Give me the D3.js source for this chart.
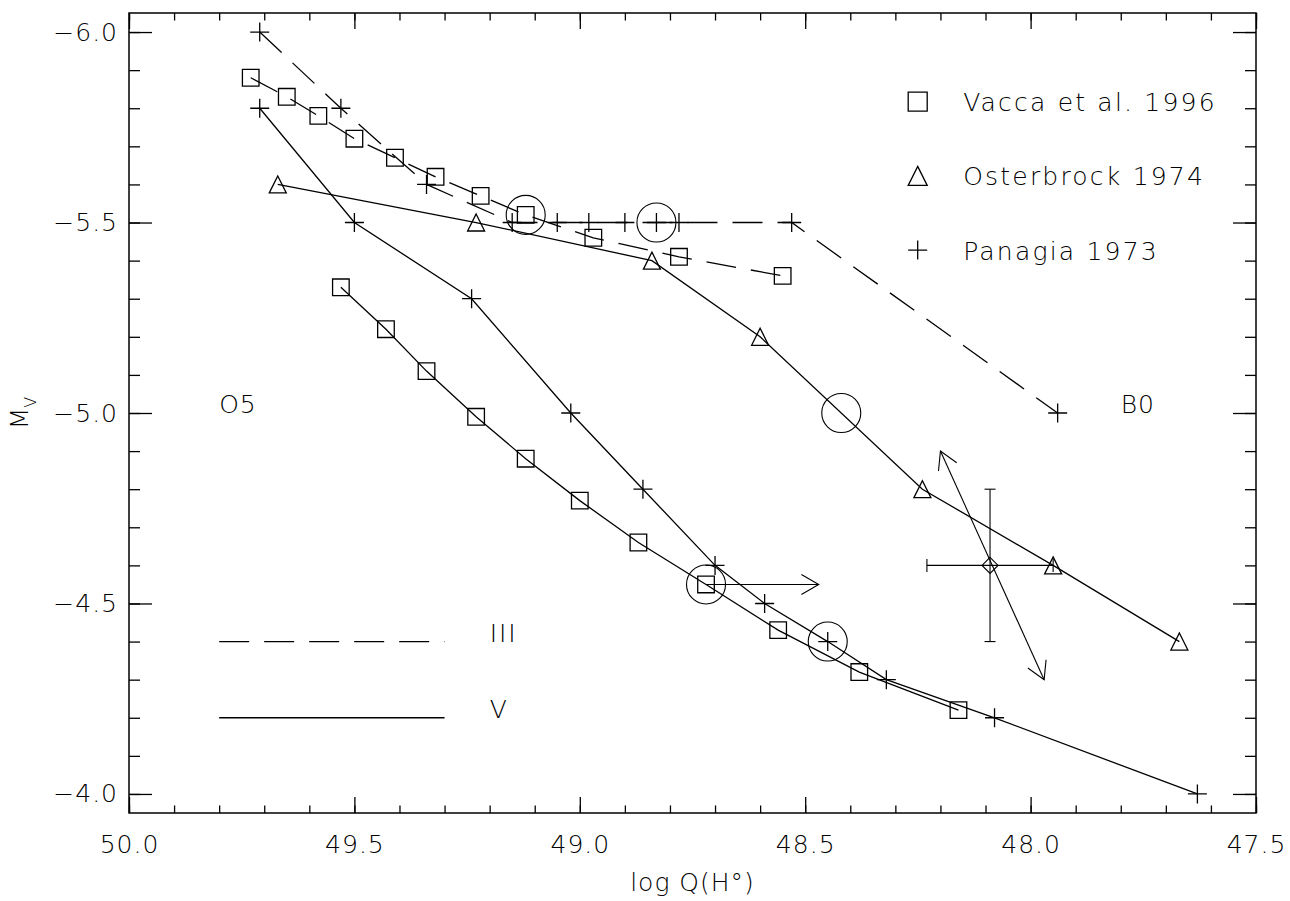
<!DOCTYPE html>
<meta charset="utf-8">
<script src="https://d3js.org/d3.v7.min.js"></script>
<style>
  body { margin: 0; background: #fff; }
  text { font-family: "DejaVu Sans", sans-serif; font-weight: 200; fill: #000; }
</style>
<div id="chart"></div>
<script>
// Values (log Q(H0) vs M_V)
const vaccaIIIQ  = [49.73, 49.65, 49.58, 49.50, 49.41, 49.32, 49.22, 49.12, 48.97, 48.78, 48.55];
const vaccaIIIMv = [-5.88, -5.83, -5.78, -5.72, -5.67, -5.62, -5.57, -5.52, -5.46, -5.41, -5.36];

const vaccaVQ  = [49.53, 49.43, 49.34, 49.23, 49.12, 49.00, 48.87, 48.72, 48.56, 48.38, 48.16];
const vaccaVMv = [-5.33, -5.22, -5.11, -4.99, -4.88, -4.77, -4.66, -4.55, -4.43, -4.32, -4.22];

const osterQ  = [49.67, 49.23, 48.84, 48.60, 48.24, 47.95, 47.67];
const osterMv = [-5.6, -5.5, -5.4, -5.2, -4.8, -4.6, -4.4];

const panagiaIIIQ  = [49.71, 49.53, 49.34, 49.15, 49.05, 48.98, 48.90, 48.83, 48.78, 48.53, 47.94];
const panagiaIIIMv = [-6.0, -5.8, -5.6, -5.5, -5.5, -5.5, -5.5, -5.5, -5.5, -5.5, -5.0];

const panagiaVQ  = [49.71, 49.50, 49.24, 49.02, 48.86, 48.70, 48.59, 48.45, 48.32, 48.08, 47.63];
const panagiaVMv = [-5.8, -5.5, -5.3, -5.0, -4.8, -4.6, -4.5, -4.4, -4.3, -4.2, -4.0];

// big open circles
const circleQ  = [49.12, 48.83, 48.42, 48.72, 48.45];
const circleMv = [-5.52, -5.50, -5.00, -4.55, -4.40];

// lower limit arrow
const limitFrom = [48.72, -4.55], limitTo = [48.47, -4.55];

// point with error bars and double arrow
const errQ = 48.09, errMv = -4.6;
const errQRange = [48.23, 47.95], errMvRange = [-4.8, -4.4];
const dblArrow = [[48.20, -4.90], [47.97, -4.30]];

const xTicks = [50.0, 49.5, 49.0, 48.5, 48.0, 47.5];
const yTicks = [-6.0, -5.5, -5.0, -4.5, -4.0];

const legendNames = ["Vacca et al. 1996", "Osterbrock 1974", "Panagia 1973"];

const margin = {top: 13, right: 34, bottom: 88, left: 129},
    width = 1290 - margin.left - margin.right,
    height = 901 - margin.top - margin.bottom;

const root = d3.select("#chart").append("svg")
    .attr("width", 1290).attr("height", 901);
const svg = root.append("g")
    .attr("transform", `translate(${margin.left},${margin.top})`);

const x = d3.scaleLinear().domain([50.0, 47.5]).range([0, width]);
const y = d3.scaleLinear().domain([-6.05, -3.95]).range([0, height]);

const minorX = d3.range(0, 26).map(i => 47.5 + i * 0.1);
const minorY = d3.range(0, 21).map(i => -6.0 + i * 0.1);

function styleAxis(g) {
    g.select(".domain").remove();
    g.selectAll("line").attr("stroke", "#000").attr("stroke-width", 1.3);
    g.selectAll("text").attr("font-size", 25).attr("letter-spacing", 1);
}

// minor ticks on all four sides
svg.append("g").attr("transform", `translate(0,${height})`)
    .call(d3.axisBottom(x).tickValues(minorX).tickSize(-7.5).tickFormat("")).call(styleAxis);
svg.append("g")
    .call(d3.axisTop(x).tickValues(minorX).tickSize(-7.5).tickFormat("")).call(styleAxis);
svg.append("g")
    .call(d3.axisLeft(y).tickValues(minorY).tickSize(-11).tickFormat("")).call(styleAxis);
svg.append("g").attr("transform", `translate(${width},0)`)
    .call(d3.axisRight(y).tickValues(minorY).tickSize(-11).tickFormat("")).call(styleAxis);

// major ticks + labels
svg.append("g").attr("transform", `translate(0,${height})`)
    .call(d3.axisBottom(x).tickValues(xTicks).tickSize(-16).tickPadding(22).tickFormat(d3.format(".1f")))
    .call(styleAxis);
svg.append("g")
    .call(d3.axisTop(x).tickValues(xTicks).tickSize(-16).tickFormat(""))
    .call(styleAxis);
svg.append("g")
    .call(d3.axisLeft(y).tickValues(yTicks).tickSize(-23).tickPadding(11).tickFormat(d => "\u2212" + d3.format(".1f")(-d)))
    .call(styleAxis);
svg.append("g").attr("transform", `translate(${width},0)`)
    .call(d3.axisRight(y).tickValues(yTicks).tickSize(-23).tickFormat(""))
    .call(styleAxis);

// frame
svg.append("rect")
    .attr("width", width).attr("height", height)
    .attr("fill", "none").attr("stroke", "#000").attr("stroke-width", 1.5);

// axis titles
svg.append("text")
    .attr("x", width / 2).attr("y", 878)
    .attr("text-anchor", "middle").attr("font-size", 25).attr("letter-spacing", 1)
    .text("log Q(H\u00b0)");

const yTitle = root.append("text")
    .attr("transform", `translate(28,${margin.top + height / 2}) rotate(-90)`)
    .attr("text-anchor", "middle").attr("font-size", 25);
yTitle.append("tspan").text("M");
yTitle.append("tspan").attr("font-size", 16).attr("dy", 8).text("V");

const line = d3.line().x(d => x(d[0])).y(d => y(d[1]));
const zip = (a, b) => a.map((v, i) => [v, b[i]]);

const series = [
    {q: vaccaIIIQ, mv: vaccaIIIMv, marker: "square", dash: true},
    {q: vaccaVQ, mv: vaccaVMv, marker: "square", dash: false},
    {q: osterQ, mv: osterMv, marker: "triangle", dash: false},
    {q: panagiaIIIQ, mv: panagiaIIIMv, marker: "plus", dash: true},
    {q: panagiaVQ, mv: panagiaVMv, marker: "plus", dash: false}
];

function markerPath(type, s) {
    const p = d3.path();
    if (type === "square") {
        p.rect(-s, -s, 2 * s, 2 * s);
    } else if (type === "triangle") {
        p.moveTo(0, -s); p.lineTo(s, s); p.lineTo(-s, s); p.closePath();
    } else if (type === "plus") {
        p.moveTo(-s, 0); p.lineTo(s, 0); p.moveTo(0, -s); p.lineTo(0, s);
    } else if (type === "diamond") {
        p.moveTo(0, -s); p.lineTo(s, 0); p.lineTo(0, s); p.lineTo(-s, 0); p.closePath();
    }
    return p.toString();
}
const markerSize = {square: 8.3, triangle: 8.5, plus: 9.5};

series.forEach(s => {
    const pts = zip(s.q, s.mv);
    svg.append("path")
        .datum(pts)
        .attr("d", line)
        .attr("fill", "none").attr("stroke", "#000").attr("stroke-width", 1.3)
        .attr("stroke-dasharray", s.dash ? "30,15" : null);
    svg.append("g").selectAll("path")
        .data(pts)
        .join("path")
        .attr("transform", d => `translate(${x(d[0])},${y(d[1])})`)
        .attr("d", markerPath(s.marker, markerSize[s.marker]))
        .attr("fill", "none").attr("stroke", "#000").attr("stroke-width", 1.3);
});

// big circles
svg.append("g").selectAll("circle")
    .data(zip(circleQ, circleMv))
    .join("circle")
    .attr("cx", d => x(d[0])).attr("cy", d => y(d[1])).attr("r", 19.5)
    .attr("fill", "none").attr("stroke", "#000").attr("stroke-width", 1.1);

function arrowHead(g, tip, from) {
    const ang = Math.atan2(from[1] - tip[1], from[0] - tip[0]);
    const len = 20, spread = Math.PI / 6;
    const p = d3.path();
    p.moveTo(tip[0] + len * Math.cos(ang + spread), tip[1] + len * Math.sin(ang + spread));
    p.lineTo(tip[0], tip[1]);
    p.lineTo(tip[0] + len * Math.cos(ang - spread), tip[1] + len * Math.sin(ang - spread));
    g.append("path").attr("d", p.toString())
        .attr("fill", "none").attr("stroke", "#000").attr("stroke-width", 1.1);
}

// horizontal limit arrow
const ann = svg.append("g");
const la = [x(limitFrom[0]), y(limitFrom[1])], lb = [x(limitTo[0]), y(limitTo[1])];
ann.append("line").attr("x1", la[0]).attr("y1", la[1]).attr("x2", lb[0]).attr("y2", lb[1])
    .attr("stroke", "#000").attr("stroke-width", 1.1);
arrowHead(ann, lb, la);

// double arrow
const da = [x(dblArrow[0][0]), y(dblArrow[0][1])], db = [x(dblArrow[1][0]), y(dblArrow[1][1])];
ann.append("line").attr("x1", da[0]).attr("y1", da[1]).attr("x2", db[0]).attr("y2", db[1])
    .attr("stroke", "#000").attr("stroke-width", 1.1);
arrowHead(ann, da, db);
arrowHead(ann, db, da);

// error bars
const ex = x(errQ), ey = y(errMv);
const eb = ann.append("g").attr("stroke", "#000").attr("stroke-width", 1.1).attr("fill", "none");
eb.append("line").attr("x1", ex).attr("x2", ex).attr("y1", y(errMvRange[0])).attr("y2", y(errMvRange[1]));
eb.append("line").attr("x1", ex - 5.5).attr("x2", ex + 5.5).attr("y1", y(errMvRange[0])).attr("y2", y(errMvRange[0]));
eb.append("line").attr("x1", ex - 5.5).attr("x2", ex + 5.5).attr("y1", y(errMvRange[1])).attr("y2", y(errMvRange[1]));
eb.append("line").attr("x1", x(errQRange[0])).attr("x2", x(errQRange[1])).attr("y1", ey).attr("y2", ey);
eb.append("line").attr("x1", x(errQRange[0])).attr("x2", x(errQRange[0])).attr("y1", ey - 6.5).attr("y2", ey + 6.5);
eb.append("line").attr("x1", x(errQRange[1])).attr("x2", x(errQRange[1])).attr("y1", ey - 6.5).attr("y2", ey + 6.5);
eb.append("path").attr("transform", `translate(${ex},${ey})`).attr("d", markerPath("diamond", 8));

// spectral type labels
svg.append("text").attr("x", x(49.8)).attr("y", y(-5.0)).attr("font-size", 25).attr("letter-spacing", 1).text("O5");
svg.append("text").attr("x", x(47.8)).attr("y", y(-5.0)).attr("font-size", 25).attr("letter-spacing", 1).text("B0");

// luminosity class key
svg.append("line").attr("x1", x(49.8)).attr("x2", x(49.3)).attr("y1", y(-4.4)).attr("y2", y(-4.4))
    .attr("stroke", "#000").attr("stroke-width", 1.3).attr("stroke-dasharray", "30,15");
svg.append("line").attr("x1", x(49.8)).attr("x2", x(49.3)).attr("y1", y(-4.2)).attr("y2", y(-4.2))
    .attr("stroke", "#000").attr("stroke-width", 1.3);
svg.append("text").attr("x", x(49.2)).attr("y", y(-4.4)).attr("font-size", 25).attr("letter-spacing", 2).text("III");
svg.append("text").attr("x", x(49.2)).attr("y", y(-4.2)).attr("font-size", 25).text("V");

// symbol legend
const legendMarkers = ["square", "triangle", "plus"];
const leg = svg.append("g").attr("transform", `translate(${917.7 - margin.left},${101.7 - margin.top})`);
legendNames.forEach((name, i) => {
    const row = leg.append("g").attr("transform", `translate(0,${i * 74.2})`);
    row.append("path").attr("d", markerPath(legendMarkers[i], 9.5))
        .attr("fill", "none").attr("stroke", "#000").attr("stroke-width", 1.3);
    row.append("text").attr("x", 45.5).attr("y", 9.5)
        .attr("font-size", 25).attr("letter-spacing", 2.2).text(name);
});
</script>
</html>
